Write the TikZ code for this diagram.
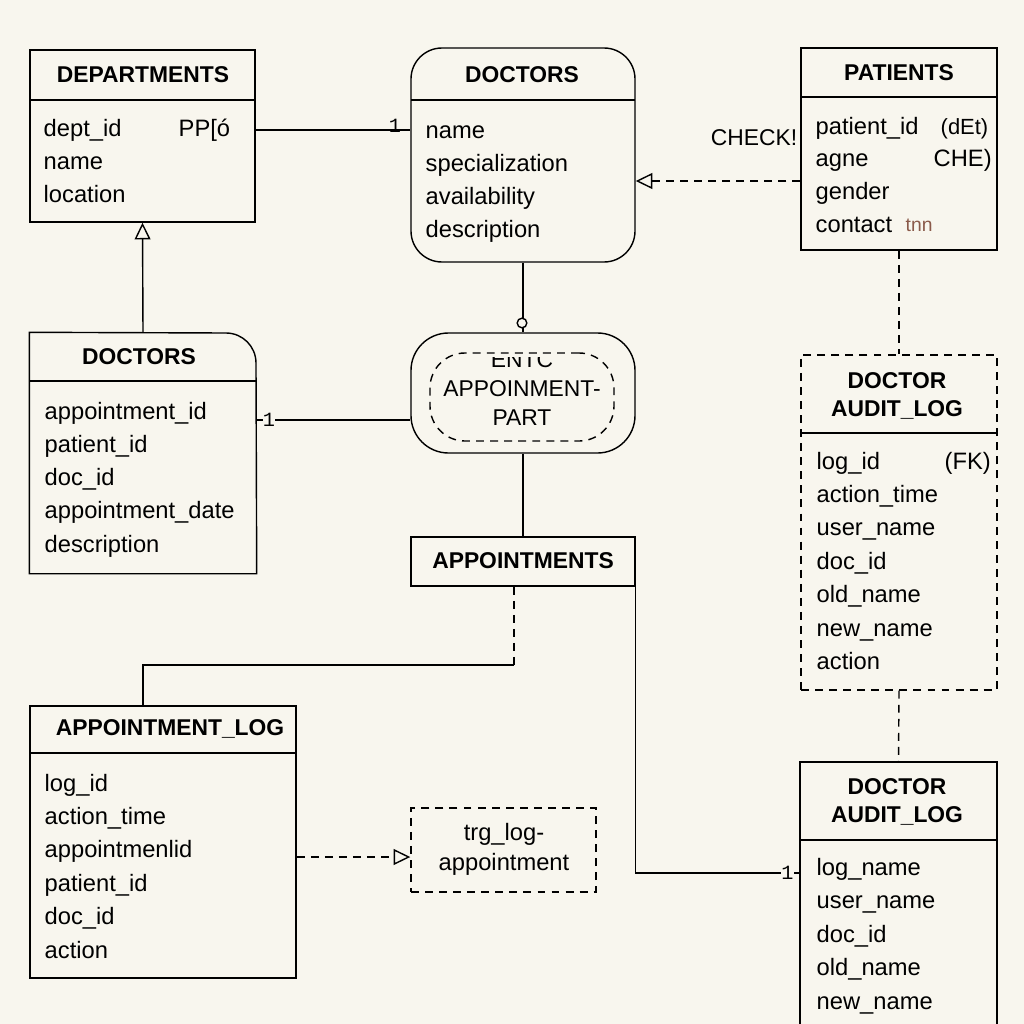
\documentclass[tikz,border=0pt]{standalone}
\usepackage{fontspec}
\setmainfont{Liberation Sans}
\setmonofont{Liberation Mono}
\usetikzlibrary{arrows.meta, positioning, fit}
\definecolor{paper}{HTML}{F8F6EE}
\definecolor{inkred}{HTML}{8A5A4A}

\begin{document}
\begin{tikzpicture}[
  x=0.02cm, y=-0.02cm,
  line width=0.8pt,
  tbl/.style={draw=black, fill=paper, inner sep=0pt},
  title/.style={font=\fontsize{13}{16}\selectfont\bfseries, align=center, inner sep=0pt},
  row/.style={anchor=west, font=\fontsize{13.5}{16}\selectfont, text height=1.6ex, text depth=0.3ex, inner sep=0pt},
  note/.style={font=\fontsize{13}{17}\selectfont, align=center, inner sep=0pt},
  card/.style={font=\ttfamily\fontsize{11.5}{12}\selectfont, inner sep=0pt},
  dashline/.style={dash pattern=on 4.5pt off 3.5pt},
  hollow/.style={-{Triangle[open, length=9.5pt, width=9pt, line width=0.8pt]}}
]
\useasboundingbox (0,0) rectangle (1024,1024);
\clip (0,0) rectangle (1024,1024);
\fill[paper] (0,0) rectangle (1024,1024);

% tables
\node[tbl, fit={(30,50) (255,222)}] (dept) {};
\node[tbl, rounded corners=0.62cm, fit={(411,48) (635,262)}] (doctors) {};
\node[tbl, fit={(801,48) (997,250)}] (patients) {};
\node[inner sep=0pt, fit={(30,333) (256,573)}] (docs2) {};
\draw[fill=paper] (docs2.south west) -- (docs2.north west) -- (226,333)
  arc[start angle=90, end angle=0, radius=0.6cm] -- (docs2.south east) -- cycle;
\node[tbl, rounded corners=0.75cm, fit={(411,333) (635,453)}] (apppart) {};
\node[tbl, dashline, rounded corners=0.7cm, fit={(430,353) (614,441)}] (apppart-in) {};
\node[tbl, fit={(411,537) (635,586)}] (appts) {};
\node[tbl, fit={(30,706) (296,978)}] (applog) {};
\node[tbl, dashline, fit={(411,808) (596,892)}] (trglog) {};
\node[tbl, dashline, fit={(801,355) (997,690)}] (audit) {};
\node[tbl, fit={(800,762) (997,1040)}] (audit2) {};

% header rules
\draw (30,100) -- (255,100);
\draw (411,100) -- (635,100);
\draw (801,97) -- (997,97);
\draw (30,381) -- (256,381);
\draw (30,753) -- (296,753);
\draw (801,433) -- (997,433);
\draw (800,840) -- (997,840);

% titles
\node[title] (dept-t) at (143,75) {DEPARTMENTS};
\node[title] (doctors-t) at (522,75) {DOCTORS};
\node[title] (patients-t) at (899,73) {PATIENTS};
\node[title] (docs2-t) at (139,357) {DOCTORS};
\node[title] (appts-t) at (523,561) {APPOINTMENTS};
\node[title] (applog-t) at (170,729) {APPOINTMENT\_LOG};
\node[title] (audit-t) at (897,396) {DOCTOR\\AUDIT\_LOG};
\node[title] (audit2-t) at (897,802) {DOCTOR\\AUDIT\_LOG};

% columns
\foreach \t [count=\i from 0] in {dept\_id, name, location}
  \node[row] at (43,130+33.4*\i) {\t};
\foreach \t [count=\i from 0] in {name, specialization, availability, description}
  \node[row] at (425,132+33.2*\i) {\t};
\foreach \t [count=\i from 0] in {patient\_id, agne, gender, contact}
  \node[row] at (815,128+32.7*\i) {\t};
\foreach \t [count=\i from 0] in {appointment\_id, patient\_id, doc\_id, appointment\_date, description}
  \node[row] at (44,413+33.3*\i) {\t};
\foreach \t [count=\i from 0] in {log\_id, action\_time, appointmenlid, patient\_id, doc\_id, action}
  \node[row] at (44,785+33.4*\i) {\t};
\foreach \t [count=\i from 0] in {log\_id, action\_time, user\_name, doc\_id, old\_name, new\_name, action}
  \node[row] at (816,463+33.4*\i) {\t};
\foreach \t [count=\i from 0] in {log\_name, user\_name, doc\_id, old\_name, new\_name}
  \node[row] at (816,869+33.5*\i) {\t};

% side marks
\node[row] (dept-pk) at (178,130) {PP[ó};
\node[row, font=\fontsize{12.5}{15}\selectfont] (pat-a) at (940,128) {(dEt)};
\node[row] (pat-b) at (933,160) {CHE)};
\node[row, font=\fontsize{11}{12}\selectfont, text=inkred] (pat-c) at (905,225) {tnn};
\node[row] (audit-fk) at (944,463) {(FK)};
\node[note] (check) at (754,138) {CHECK!};

% inner part
\begin{scope}
  \clip (440,357) rectangle (610,380);
  \node[note] (ento) at (522,360) {ENTC};
\end{scope}
\node[note] (apppart-t) at (522,403) {APPOINMENT-\\PART};
\node[note, font=\fontsize{13.5}{17}\selectfont] (trglog-t) at (504,849) {trg\_log-\\appointment};

% connectors
\draw (dept.east |- 0,130) -- node[card, pos=0.9, anchor=south, yshift=-2pt] {1} (doctors.west |- 0,130);
\draw[hollow] (docs2.north) -- (dept.south);
\draw (docs2.east |- 0,420) -- node[card, pos=0.08, fill=paper] {1} (apppart.west |- 0,420);
\draw[dashline, hollow] (patients.west |- 0,181) -- (doctors.east |- 0,181);
\draw (doctors.south) -- (apppart.north);
\node[circle, draw, fill=paper, inner sep=0pt, minimum size=5.5pt] (knob) at (522,323) {};
\draw (apppart.south) -- (appts.north);
\coordinate (bend) at (514,665);
\draw[dashline] (appts.south -| bend) -- (bend);
\draw (bend) -| (applog.north -| 143,0);
\draw (appts.south east) |- node[card, pos=0.964, fill=paper] {1} (audit2.west |- 0,873);
\draw[dashline, hollow] (applog.east |- 0,857) -- (trglog.west |- 0,857);
\draw[dashline] (patients.south) -- (audit.north);
\draw[dashline] (audit.south) -- (audit2.north);

\end{tikzpicture}
\end{document}
